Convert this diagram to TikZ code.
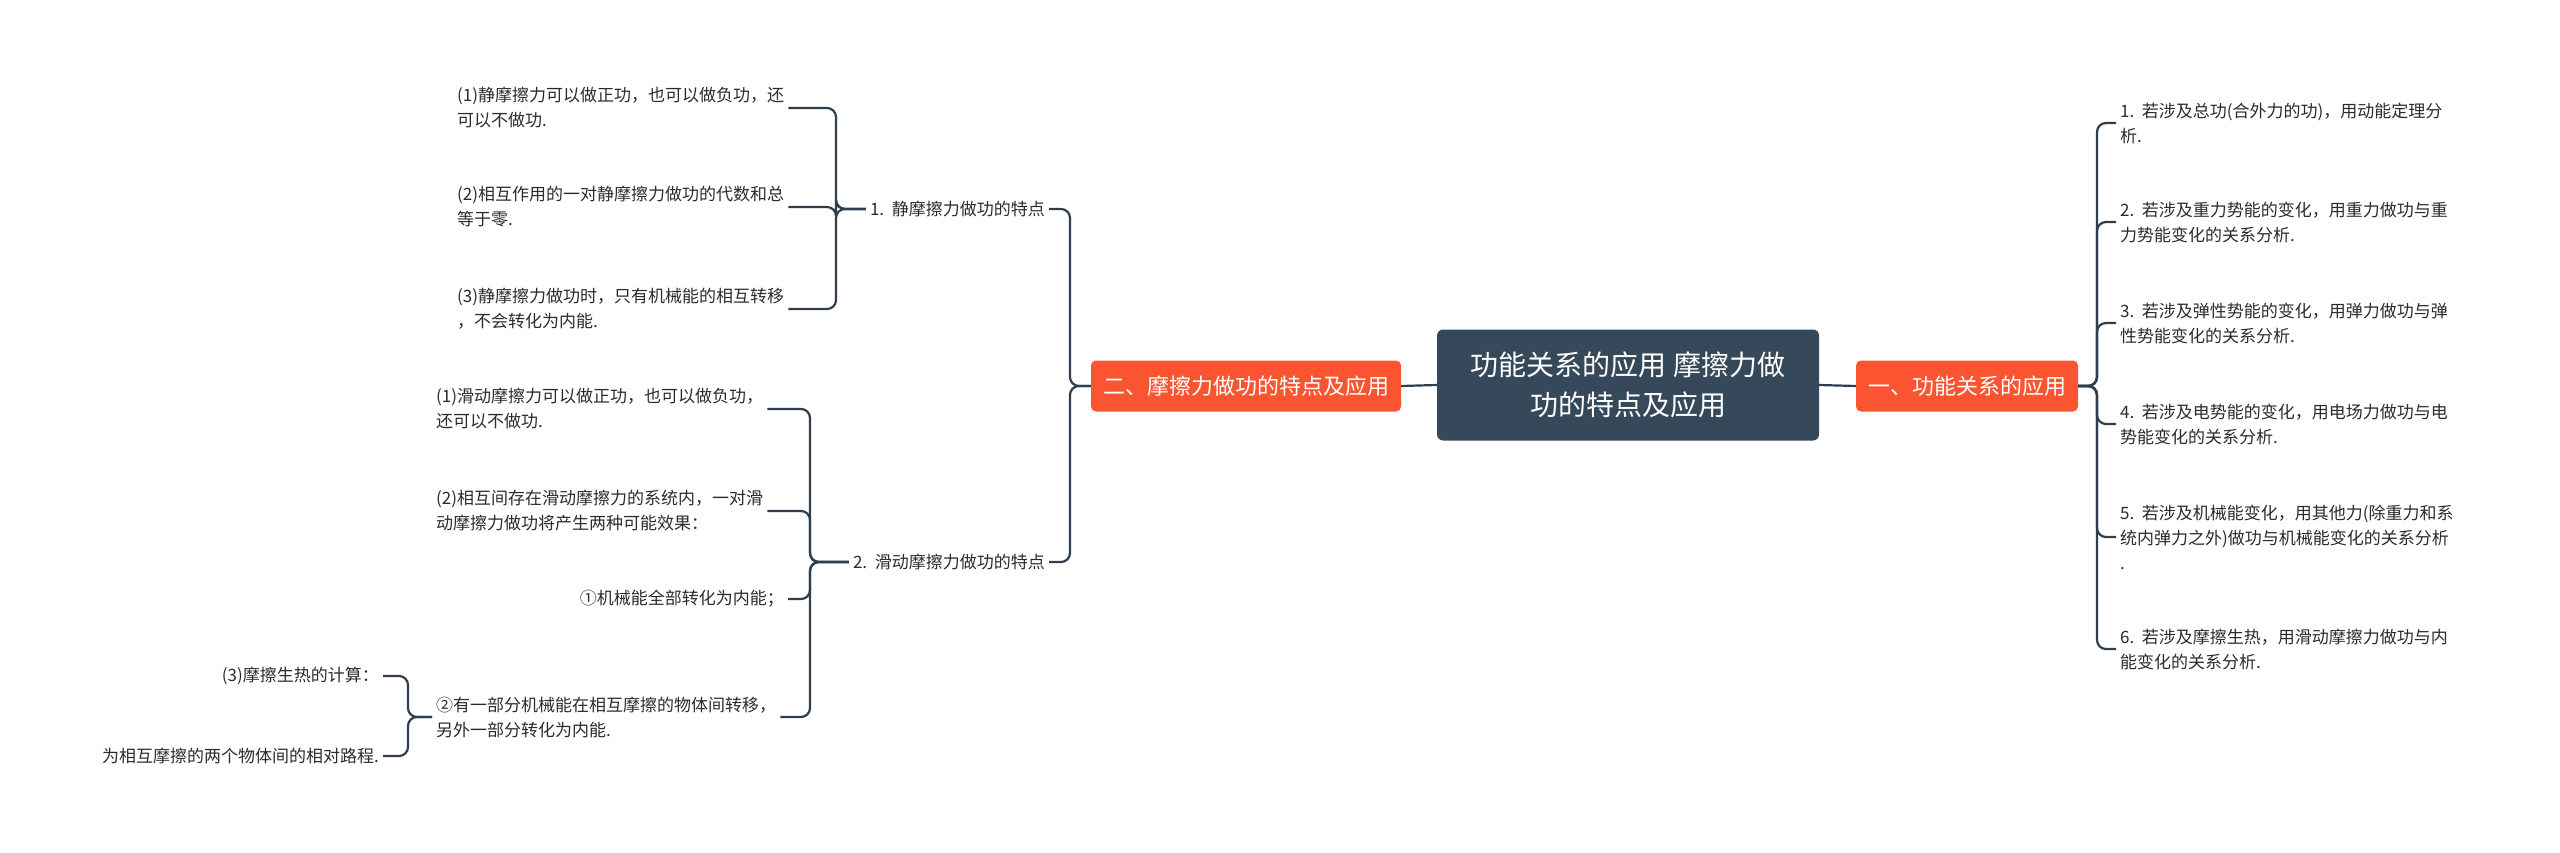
\documentclass[tikz,border=0pt]{standalone}
\usepackage{fontspec}
\setmainfont{Noto Sans CJK SC}
\definecolor{lineC}{HTML}{2F3E4C}
\definecolor{rootC}{HTML}{36495A}
\definecolor{mainC}{HTML}{FA5430}
\definecolor{txtC}{HTML}{2B2B2B}
\tikzset{
  leaf/.style={font=\fontsize{17}{25}\selectfont, text=txtC, inner sep=4pt, align=left},
  rleaf/.style={leaf, align=right},
  conn/.style={draw=lineC, line width=2.2pt, rounded corners=9pt},
  mainbox/.style={fill=mainC, text=white, rounded corners=5pt, font=\fontsize{22}{28}\selectfont, minimum width=0pt, minimum height=51pt, inner xsep=12pt},
  rootbox/.style={fill=rootC, text=white, rounded corners=6pt, font=\fontsize{28}{40}\selectfont, align=center, minimum width=382pt, minimum height=111pt}
}
\begin{document}
\begin{tikzpicture}[x=1pt,y=-1pt]
\useasboundingbox (0,0) rectangle (2560,853);
\node[rootbox] (root) at (1628,385) {功能关系的应用 摩擦力做\\功的特点及应用};
\node[mainbox] (R) at (1967,386) {一、功能关系的应用};
\node[mainbox] (L) at (1246,386) {二、摩擦力做功的特点及应用};
\draw[conn] (root.east) -- (R.west);
\draw[conn] (root.west) -- (L.east);
% right leaves
\node[leaf,anchor=west] (r1) at (2116,123) {1.\ \ 若涉及总功(合外力的功)，用动能定理分\\析.};
\node[leaf,anchor=west] (r2) at (2116,222) {2.\ \ 若涉及重力势能的变化，用重力做功与重\\力势能变化的关系分析.};
\node[leaf,anchor=west] (r3) at (2116,323) {3.\ \ 若涉及弹性势能的变化，用弹力做功与弹\\性势能变化的关系分析.};
\node[leaf,anchor=west] (r4) at (2116,424) {4.\ \ 若涉及电势能的变化，用电场力做功与电\\势能变化的关系分析.};
\node[leaf,anchor=west] (r5) at (2116,537) {5.\ \ 若涉及机械能变化，用其他力(除重力和系\\统内弹力之外)做功与机械能变化的关系分析\\.};
\node[leaf,anchor=west] (r6) at (2116,649) {6.\ \ 若涉及摩擦生热，用滑动摩擦力做功与内\\能变化的关系分析.};
\foreach \n in {r1,r2,r3,r4,r5,r6}
  \draw[conn] (R.east) -- (2097,386) |- (\n.west);
% left level 2
\node[leaf,anchor=east] (a) at (1049,209) {1.\ \ 静摩擦力做功的特点};
\node[leaf,anchor=east] (b) at (1049,562) {2.\ \ 滑动摩擦力做功的特点};
\draw[conn] (L.west) -- (1070,386) |- (a.east);
\draw[conn] (L.west) -- (1070,386) |- (b.east);
% a children
\node[leaf,anchor=west] (a1) at (453,108) {(1)静摩擦力可以做正功，也可以做负功，还\\可以不做功.};
\node[leaf,anchor=west] (a2) at (453,207) {(2)相互作用的一对静摩擦力做功的代数和总\\等于零.};
\node[leaf,anchor=west] (a3) at (453,309) {(3)静摩擦力做功时，只有机械能的相互转移\\，不会转化为内能.};
\foreach \n in {a1,a2,a3}
  \draw[conn] (a.west) -- (836,209) |- (\n.east);
% b children
\node[leaf,anchor=west] (b1) at (432,409) {(1)滑动摩擦力可以做正功，也可以做负功，\\还可以不做功.};
\node[leaf,anchor=west] (b2) at (432,511) {(2)相互间存在滑动摩擦力的系统内，一对滑\\动摩擦力做功将产生两种可能效果：};
\node[rleaf,anchor=east] (b3) at (788,599) {①机械能全部转化为内能；};
\node[leaf,anchor=west] (b4) at (432,717) {②有一部分机械能在相互摩擦的物体间转移，\\另外一部分转化为内能.};
\foreach \n in {b1,b2,b3,b4}
  \draw[conn] (b.west) -- (810,562) |- (\n.east);
% b4 children
\node[rleaf,anchor=east] (c1) at (383,676) {(3)摩擦生热的计算：};
\node[rleaf,anchor=east] (c2) at (383,756) {为相互摩擦的两个物体间的相对路程.};
\foreach \n in {c1,c2}
  \draw[conn] (b4.west) -- (408,717) |- (\n.east);
\end{tikzpicture}
\end{document}
